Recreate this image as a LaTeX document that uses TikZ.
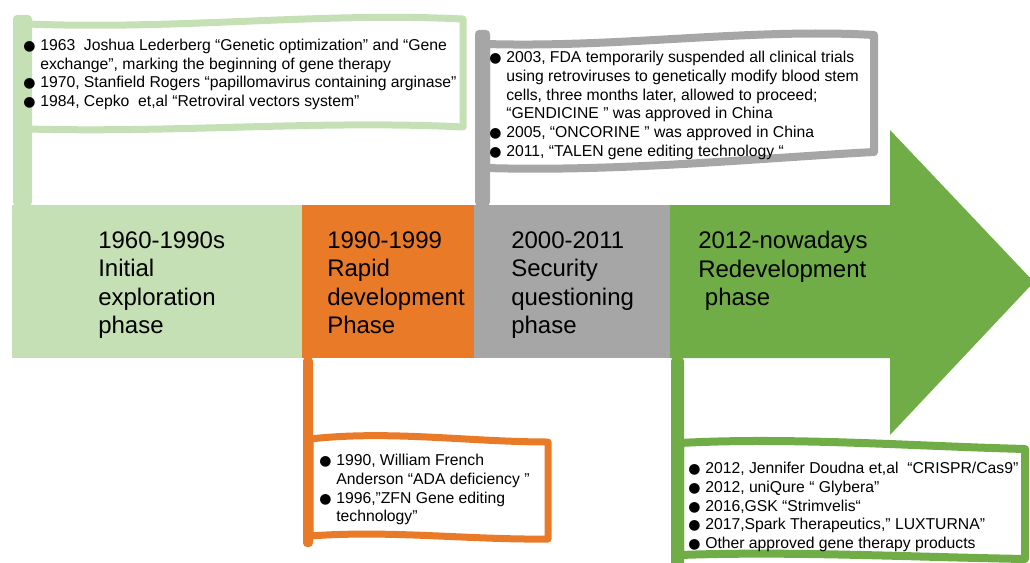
\documentclass[tikz,border=0pt]{standalone}
\usepackage{fontspec}
\setmainfont{Liberation Sans}
\newfontfamily\dotfont{DejaVu Sans}
\definecolor{palegreen}{HTML}{C5E0B4}
\definecolor{rapidorange}{HTML}{E97B28}
\definecolor{questgrey}{HTML}{A6A6A6}
\definecolor{nowgreen}{HTML}{70AD47}
\newcommand\bul{\makebox[12.75pt][l]{\dotfont\fontsize{10.5}{10}\selectfont ●}}
\newcommand\contline{\hspace*{12.75pt}}

\begin{document}
\begin{tikzpicture}[x=0.75pt,y=-0.75pt,
  phase/.style={anchor=north west,inner sep=0pt,align=left,font=\fontsize{18}{21.4}\selectfont},
  notes/.style={anchor=north west,inner sep=0pt,align=left,font=\fontsize{11.8}{14}\selectfont},
  banner/.style={fill=white,line join=round}]
\useasboundingbox (0,0) rectangle (1030,563);
\clip (0,0) rectangle (1030,563);

\fill[palegreen] (12,205) rectangle (302,358);
\fill[rapidorange] (302,205) rectangle (474,358);
\fill[questgrey] (474,205) rectangle (670,358);
\fill[nowgreen] (670,205) -- (890,205) -- (890,130) -- (1034,282) -- (890,435) -- (890,358) -- (670,358) -- cycle;

\draw[banner, draw=palegreen, line width=5.25pt] (28,24) .. controls (180,30) and (320,12) .. (463,19)
      -- (463,127) .. controls (320,120) and (180,133) .. (28,129) -- cycle;
\draw[banner, draw=questgrey, line width=6pt] (486,44) .. controls (620,48) and (750,28) .. (874,35)
      -- (874,152) .. controls (760,158) and (620,172) .. (486,168) -- cycle;
\draw[banner, draw=rapidorange, line width=5.25pt] (310,439) .. controls (390,430) and (470,442) .. (548,442)
      -- (548,539) .. controls (470,540) and (390,530) .. (310,536) -- cycle;
\draw[banner, draw=nowgreen, line width=6pt] (680,443) .. controls (790,437) and (910,446) .. (1025,449)
      -- (1025,559) .. controls (910,557) and (790,551) .. (680,555) -- cycle;

\fill[palegreen, rounded corners=3] (13,15) rectangle (32,206);
\fill[questgrey, rounded corners=3] (475,30) rectangle (490,206);
\fill[rapidorange, rounded corners=3] (303,357) rectangle (313,547);
\fill[nowgreen, rounded corners=3] (671,357) rectangle (684,570);

\node[phase] (early) at (98,231) {1960-1990s\\Initial\\exploration\\phase};
\node[phase] (rapid) at (327,231) {1990-1999\\Rapid\\development\\Phase};
\node[phase] (security) at (511,231) {2000-2011\\Security\\questioning\\phase};
\node[phase] (redev) at (698,231) {2012-nowadays\\Redevelopment\\\hspace*{5pt}phase};

\node[notes] (earlynotes) at (23,39) {\bul 1963~ Joshua Lederberg “Genetic optimization” and “Gene\\
  \contline exchange”, marking the beginning of gene therapy\\
  \bul 1970, Stanfield Rogers “papillomavirus containing arginase”\\
  \bul 1984, Cepko~ et,al “Retroviral vectors system”};
\node[notes] (securitynotes) at (489,51) {\bul 2003, FDA temporarily suspended all clinical trials\\
  \contline using retroviruses to genetically modify blood stem\\
  \contline cells, three months later, allowed to proceed;\\
  \contline “GENDICINE ” was approved in China\\
  \bul 2005, “ONCORINE ” was approved in China\\
  \bul 2011, “TALEN gene editing technology “};
\node[notes] (rapidnotes) at (319,454) {\bul 1990, William French\\
  \contline Anderson “ADA deficiency ”\\
  \bul 1996,”ZFN Gene editing\\
  \contline technology”};
\node[notes] (redevnotes) at (688,462) {\bul 2012, Jennifer Doudna et,al~ “CRISPR/Cas9”\\
  \bul 2012, uniQure “ Glybera”\\
  \bul 2016,GSK “Strimvelis“\\
  \bul 2017,Spark Therapeutics,” LUXTURNA”\\
  \bul Other approved gene therapy products};
\end{tikzpicture}
\end{document}
